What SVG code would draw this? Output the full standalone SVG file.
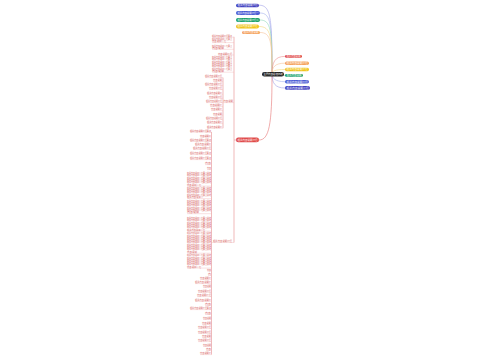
<svg xmlns="http://www.w3.org/2000/svg" width="500" height="360" viewBox="0 0 500 360">
<style>
.n text{font-family:"Noto Sans CJK SC","Liberation Sans",sans-serif;font-size:2.4px;fill:#fff}
.t{font-family:"Noto Sans CJK SC","Liberation Sans",sans-serif;font-size:2.1px;fill:#d65a5a}
.b{font-family:"Noto Sans CJK SC","Liberation Sans",sans-serif;font-size:1.8px;fill:#d65a5a}
.u{stroke:#f0b4b4;stroke-width:0.4;fill:none}
.c{fill:none;stroke-width:0.6}
.tr{stroke:#e99c9c;stroke-width:0.7;fill:none}
</style>
<rect width="500" height="360" fill="#fff"/>
<g id="connectors">
<path class="c" stroke="#9fa0e8" d="M272,74 C272,18 271,5.2 259,5.2"/>
<path class="c" stroke="#a4b0ee" d="M272,74 C272,24 271,13 260,13"/>
<path class="c" stroke="#8fd8b8" d="M272,74 C272,30 271,20 260,20"/>
<path class="c" stroke="#f3d77a" d="M272,74 C272,36 271,26.5 259,26.5"/>
<path class="c" stroke="#f6c39a" d="M272,74 C272,42 271,32.5 260,32.5"/>
<path class="c" stroke="#ec9090" d="M272,74 C272,62 275,56.4 285,56.4"/>
<path class="c" stroke="#f6c39a" d="M272,74 C272,67 275,63.2 285,63.2"/>
<path class="c" stroke="#f3d77a" d="M272,74 C272,71 275,69.5 285,69.5"/>
<path class="c" stroke="#8fd8b8" d="M272,74 C276,74 278,75.4 285,75.4"/>
<path class="c" stroke="#a4b0ee" d="M272,74 C272,78 275,81.7 285,81.7"/>
<path class="c" stroke="#9fa0e8" d="M272,74 C272,83 275,88 285,88"/>
<path class="c" stroke="#e57373" d="M272,76 C272,125 269,140 259,140"/>
<path class="tr" d="M234,36.8 V242.5 M234,140 H236"/>
<path class="tr" d="M223,77.6 V128.2"/>
<path class="tr" d="M211.5,132 V354.6"/>
</g>
<g id="center" class="n"><rect x="262" y="72" width="22" height="4.6" rx="2.3" fill="#222"/><text x="263.5" y="75.2" textLength="19" lengthAdjust="spacingAndGlyphs">主题内容总结归纳</text></g>
<g id="top1" class="n"><rect x="236" y="3.8" width="23" height="3.4" rx="1.7" fill="#3f3fbf"/><text x="237.5" y="6.3" textLength="20" lengthAdjust="spacingAndGlyphs">相关内容说明介绍</text></g>
<g id="top2" class="n"><rect x="236" y="11" width="24" height="4" rx="2" fill="#4a5cd4"/><text x="237.5" y="13.8" textLength="21" lengthAdjust="spacingAndGlyphs">相关内容说明介绍一</text></g>
<g id="top3" class="n"><rect x="236" y="18" width="24" height="4" rx="2" fill="#1aa06a"/><text x="237.5" y="20.8" textLength="21" lengthAdjust="spacingAndGlyphs">相关内容说明介绍二</text></g>
<g id="top4" class="n"><rect x="236" y="24.5" width="23" height="4" rx="2" fill="#f0c419"/><text x="237.5" y="27.3" textLength="20" lengthAdjust="spacingAndGlyphs">相关内容说明介绍</text></g>
<g id="top5" class="n"><rect x="242" y="31" width="18" height="3" rx="1.5" fill="#f5a25d"/><text x="243.5" y="33.3" textLength="15" lengthAdjust="spacingAndGlyphs">相关内容说明</text></g>
<g id="right1" class="n"><rect x="285" y="55" width="17" height="2.8" rx="1.4" fill="#e04848"/><text x="286.5" y="57.2" textLength="14" lengthAdjust="spacingAndGlyphs">相关内容说明</text></g>
<g id="right2" class="n"><rect x="285" y="61.5" width="24" height="3.5" rx="1.7" fill="#f5a25d"/><text x="286.5" y="64.1" textLength="21" lengthAdjust="spacingAndGlyphs">相关内容说明介绍</text></g>
<g id="right3" class="n"><rect x="285" y="67.8" width="24" height="3.5" rx="1.7" fill="#f0c419"/><text x="286.5" y="70.4" textLength="21" lengthAdjust="spacingAndGlyphs">相关内容说明介绍</text></g>
<g id="right4" class="n"><rect x="285" y="74" width="18" height="2.8" rx="1.4" fill="#1aa06a"/><text x="286.5" y="76.2" textLength="15" lengthAdjust="spacingAndGlyphs">相关内容说明</text></g>
<g id="right5" class="n"><rect x="285" y="80" width="24" height="3.5" rx="1.7" fill="#4a5cd4"/><text x="286.5" y="82.6" textLength="21" lengthAdjust="spacingAndGlyphs">相关内容说明介绍</text></g>
<g id="right6" class="n"><rect x="285" y="86" width="25" height="3.8" rx="1.9" fill="#3f3fbf"/><text x="286.5" y="88.8" textLength="22" lengthAdjust="spacingAndGlyphs">相关内容说明介绍</text></g>
<g id="left-main" class="n"><rect x="236" y="137.6" width="23" height="4.6" rx="2.3" fill="#e04848"/><text x="237.5" y="140.8" textLength="20" lengthAdjust="spacingAndGlyphs">相关内容说明介绍</text></g>
<g id="left-top-items">
<path class="u" d="M212,37.2H234 M212,42.6H234 M212,49.3H234 M218,55H234 M212,72.2H234"/>
<text class="t" x="212" y="36.8" textLength="20" lengthAdjust="spacingAndGlyphs">相关内容说明介绍要点</text>
<text class="b" x="212" y="39.8" textLength="20" lengthAdjust="spacingAndGlyphs">相关内容说明介绍要点</text>
<text class="b" x="212" y="42.2" textLength="14" lengthAdjust="spacingAndGlyphs">内容说明介绍</text>
<text class="b" x="212" y="46.6" textLength="20" lengthAdjust="spacingAndGlyphs">相关内容说明介绍要点</text>
<text class="b" x="212" y="48.9" textLength="12" lengthAdjust="spacingAndGlyphs">内容说明</text>
<text class="t" x="218" y="54.6" textLength="14" lengthAdjust="spacingAndGlyphs">内容说明介绍</text>
<text class="b" x="212" y="58" textLength="20" lengthAdjust="spacingAndGlyphs">相关内容说明介绍要点</text>
<text class="b" x="212" y="60.3" textLength="20" lengthAdjust="spacingAndGlyphs">相关内容说明介绍要点</text>
<text class="b" x="212" y="62.6" textLength="20" lengthAdjust="spacingAndGlyphs">相关内容说明介绍要点</text>
<text class="b" x="212" y="64.9" textLength="20" lengthAdjust="spacingAndGlyphs">相关内容说明介绍要点</text>
<text class="b" x="212" y="67.2" textLength="20" lengthAdjust="spacingAndGlyphs">相关内容说明介绍要点</text>
<text class="b" x="212" y="69.5" textLength="20" lengthAdjust="spacingAndGlyphs">相关内容说明介绍要点</text>
<text class="b" x="212" y="71.8" textLength="12" lengthAdjust="spacingAndGlyphs">内容说明</text>
</g>
<g id="sub-a">
<path class="u" d="M223,102.6H234"/>
<text class="t" x="223.5" y="102.2" textLength="9.5" lengthAdjust="spacingAndGlyphs">内容说明</text>
</g>
<g id="sub-a-items">
<path class="u" d="M205,77.6H223 M213,81.6H223 M205,85.6H223 M209,89.6H223 M207,94.2H223 M209,98.3H223 M206,102.6H223 M210,106.6H223 M211,110.6H223 M213,115.2H223 M206,119.3H223 M207,123.4H223 M207,128.2H223"/>
<text class="t" x="205" y="77.2" textLength="17" lengthAdjust="spacingAndGlyphs">相关内容说明介绍</text>
<text class="t" x="213" y="81.2" textLength="9" lengthAdjust="spacingAndGlyphs">内容说明</text>
<text class="t" x="205" y="85.2" textLength="17" lengthAdjust="spacingAndGlyphs">相关内容说明介绍</text>
<text class="t" x="209" y="89.2" textLength="13" lengthAdjust="spacingAndGlyphs">内容说明介绍</text>
<text class="t" x="207" y="93.8" textLength="15" lengthAdjust="spacingAndGlyphs">相关内容说明介</text>
<text class="t" x="209" y="97.9" textLength="13" lengthAdjust="spacingAndGlyphs">内容说明介绍</text>
<text class="t" x="206" y="102.2" textLength="16" lengthAdjust="spacingAndGlyphs">相关内容说明介绍</text>
<text class="t" x="210" y="106.2" textLength="12" lengthAdjust="spacingAndGlyphs">内容说明介</text>
<text class="t" x="211" y="110.2" textLength="11" lengthAdjust="spacingAndGlyphs">内容说明介</text>
<text class="t" x="213" y="114.8" textLength="9" lengthAdjust="spacingAndGlyphs">内容说明</text>
<text class="t" x="206" y="118.9" textLength="16" lengthAdjust="spacingAndGlyphs">相关内容说明介绍</text>
<text class="t" x="207" y="123" textLength="15" lengthAdjust="spacingAndGlyphs">相关内容说明介</text>
<text class="t" x="207" y="127.8" textLength="15" lengthAdjust="spacingAndGlyphs">相关内容说明介</text>
</g>
<g id="sub-b">
<path class="u" d="M211.5,242.5H234"/>
<text class="t" x="213" y="242" textLength="19" lengthAdjust="spacingAndGlyphs">相关内容说明介绍</text>
</g>
<g id="sub-b-items">
<path class="u" d="M190,132H211.5 M200,137H211.5 M190,141.4H211.5 M195,145.4H211.5 M193,149.4H211.5 M190,154.6H211.5 M190,159.6H211.5 M205,164.6H211.5 M207,169.6H211.5"/>
<text class="t" x="190" y="131.6" textLength="21" lengthAdjust="spacingAndGlyphs">相关内容说明介绍要点</text>
<text class="t" x="200" y="136.6" textLength="11" lengthAdjust="spacingAndGlyphs">内容说明介</text>
<text class="t" x="190" y="141" textLength="21" lengthAdjust="spacingAndGlyphs">相关内容说明介绍要点</text>
<text class="t" x="195" y="145" textLength="16" lengthAdjust="spacingAndGlyphs">相关内容说明介</text>
<text class="t" x="193" y="149" textLength="18" lengthAdjust="spacingAndGlyphs">相关内容说明介绍</text>
<text class="t" x="190" y="154.2" textLength="21" lengthAdjust="spacingAndGlyphs">相关内容说明介绍要点</text>
<text class="t" x="190" y="159.2" textLength="21" lengthAdjust="spacingAndGlyphs">相关内容说明介绍要点</text>
<text class="t" x="205" y="164.2" textLength="6" lengthAdjust="spacingAndGlyphs">内容</text>
<text class="t" x="207" y="169.2" textLength="4" lengthAdjust="spacingAndGlyphs">内容</text>
<g id="blocks">
<path class="u" d="M187,186.1H211.5 M187,198.6H211.5 M187,213.7H211.5 M187,231.1H211.5 M187,253.2H211.5 M187,268.1H211.5"/>
<text class="b" x="187" y="174" textLength="24" lengthAdjust="spacingAndGlyphs">相关内容说明介绍要点总结</text>
<text class="b" x="187" y="176.3" textLength="24" lengthAdjust="spacingAndGlyphs">相关内容说明介绍要点总结</text>
<text class="b" x="187" y="178.6" textLength="24" lengthAdjust="spacingAndGlyphs">相关内容说明介绍要点总结</text>
<text class="b" x="187" y="180.9" textLength="24" lengthAdjust="spacingAndGlyphs">相关内容说明介绍要点总结</text>
<text class="b" x="187" y="183.2" textLength="24" lengthAdjust="spacingAndGlyphs">相关内容说明介绍要点总结</text>
<text class="b" x="187" y="185.5" textLength="14" lengthAdjust="spacingAndGlyphs">内容说明介绍</text>
<text class="b" x="187" y="188.8" textLength="24" lengthAdjust="spacingAndGlyphs">相关内容说明介绍要点总结</text>
<text class="b" x="187" y="191.1" textLength="24" lengthAdjust="spacingAndGlyphs">相关内容说明介绍要点总结</text>
<text class="b" x="187" y="193.4" textLength="24" lengthAdjust="spacingAndGlyphs">相关内容说明介绍要点总结</text>
<text class="b" x="187" y="195.7" textLength="24" lengthAdjust="spacingAndGlyphs">相关内容说明介绍要点总结</text>
<text class="b" x="187" y="198" textLength="16" lengthAdjust="spacingAndGlyphs">相关内容说明介</text>
<text class="b" x="187" y="201.6" textLength="24" lengthAdjust="spacingAndGlyphs">相关内容说明介绍要点总结</text>
<text class="b" x="187" y="203.9" textLength="24" lengthAdjust="spacingAndGlyphs">相关内容说明介绍要点总结</text>
<text class="b" x="187" y="206.2" textLength="24" lengthAdjust="spacingAndGlyphs">相关内容说明介绍要点总结</text>
<text class="b" x="187" y="208.5" textLength="24" lengthAdjust="spacingAndGlyphs">相关内容说明介绍要点总结</text>
<text class="b" x="187" y="210.8" textLength="24" lengthAdjust="spacingAndGlyphs">相关内容说明介绍要点总结</text>
<text class="b" x="187" y="213.1" textLength="12" lengthAdjust="spacingAndGlyphs">内容说明</text>
<text class="b" x="187" y="219" textLength="24" lengthAdjust="spacingAndGlyphs">相关内容说明介绍要点总结</text>
<text class="b" x="187" y="221.3" textLength="24" lengthAdjust="spacingAndGlyphs">相关内容说明介绍要点总结</text>
<text class="b" x="187" y="223.6" textLength="24" lengthAdjust="spacingAndGlyphs">相关内容说明介绍要点总结</text>
<text class="b" x="187" y="225.9" textLength="24" lengthAdjust="spacingAndGlyphs">相关内容说明介绍要点总结</text>
<text class="b" x="187" y="228.2" textLength="24" lengthAdjust="spacingAndGlyphs">相关内容说明介绍要点总结</text>
<text class="b" x="187" y="230.5" textLength="18" lengthAdjust="spacingAndGlyphs">相关内容说明介绍</text>
<text class="b" x="187" y="234.2" textLength="24" lengthAdjust="spacingAndGlyphs">相关内容说明介绍要点总结</text>
<text class="b" x="187" y="236.5" textLength="24" lengthAdjust="spacingAndGlyphs">相关内容说明介绍要点总结</text>
<text class="b" x="187" y="238.8" textLength="24" lengthAdjust="spacingAndGlyphs">相关内容说明介绍要点总结</text>
<text class="b" x="187" y="241.1" textLength="24" lengthAdjust="spacingAndGlyphs">相关内容说明介绍要点总结</text>
<text class="b" x="187" y="243.4" textLength="24" lengthAdjust="spacingAndGlyphs">相关内容说明介绍要点总结</text>
<text class="b" x="187" y="245.7" textLength="24" lengthAdjust="spacingAndGlyphs">相关内容说明介绍要点总结</text>
<text class="b" x="187" y="248" textLength="24" lengthAdjust="spacingAndGlyphs">相关内容说明介绍要点总结</text>
<text class="b" x="187" y="250.3" textLength="24" lengthAdjust="spacingAndGlyphs">相关内容说明介绍要点总结</text>
<text class="b" x="187" y="252.6" textLength="10" lengthAdjust="spacingAndGlyphs">内容说明</text>
<text class="b" x="187" y="256.2" textLength="24" lengthAdjust="spacingAndGlyphs">相关内容说明介绍要点总结</text>
<text class="b" x="187" y="258.5" textLength="24" lengthAdjust="spacingAndGlyphs">相关内容说明介绍要点总结</text>
<text class="b" x="187" y="260.8" textLength="24" lengthAdjust="spacingAndGlyphs">相关内容说明介绍要点总结</text>
<text class="b" x="187" y="263.1" textLength="24" lengthAdjust="spacingAndGlyphs">相关内容说明介绍要点总结</text>
<text class="b" x="187" y="265.4" textLength="24" lengthAdjust="spacingAndGlyphs">相关内容说明介绍要点总结</text>
<text class="b" x="187" y="267.7" textLength="14" lengthAdjust="spacingAndGlyphs">内容说明介绍</text>
</g>
<path class="u" d="M207,270.9H211.5 M208,275.6H211.5 M200,279.6H211.5 M195,283.6H211.5 M203,287.6H211.5 M198,292.4H211.5 M197,296.6H211.5 M195,301.4H211.5 M205,305.6H211.5 M190,309.6H211.5 M205,314.4H211.5 M203,319.4H211.5 M202,324.4H211.5 M198,328.6H211.5 M198,333.4H211.5 M202,337.6H211.5 M198,341.6H211.5 M203,346.4H211.5 M206,350.6H211.5 M200,354.6H211.5"/>
<text class="t" x="207" y="270.5" textLength="4" lengthAdjust="spacingAndGlyphs">内容</text>
<text class="t" x="208" y="275.2" textLength="3" lengthAdjust="spacingAndGlyphs">内</text>
<text class="t" x="200" y="279.2" textLength="11" lengthAdjust="spacingAndGlyphs">内容说明介</text>
<text class="t" x="195" y="283.2" textLength="16" lengthAdjust="spacingAndGlyphs">相关内容说明介</text>
<text class="t" x="203" y="287.2" textLength="8" lengthAdjust="spacingAndGlyphs">内容说明</text>
<text class="t" x="198" y="292" textLength="13" lengthAdjust="spacingAndGlyphs">内容说明介绍</text>
<text class="t" x="197" y="296.2" textLength="14" lengthAdjust="spacingAndGlyphs">内容说明介绍</text>
<text class="t" x="195" y="301" textLength="16" lengthAdjust="spacingAndGlyphs">相关内容说明介</text>
<text class="t" x="205" y="305.2" textLength="6" lengthAdjust="spacingAndGlyphs">内容</text>
<text class="t" x="190" y="309.2" textLength="21" lengthAdjust="spacingAndGlyphs">相关内容说明介绍要点</text>
<text class="t" x="205" y="314" textLength="6" lengthAdjust="spacingAndGlyphs">内容</text>
<text class="t" x="203" y="319" textLength="8" lengthAdjust="spacingAndGlyphs">内容说明</text>
<text class="t" x="202" y="324" textLength="9" lengthAdjust="spacingAndGlyphs">内容说明</text>
<text class="t" x="198" y="328.2" textLength="13" lengthAdjust="spacingAndGlyphs">内容说明介绍</text>
<text class="t" x="198" y="333" textLength="13" lengthAdjust="spacingAndGlyphs">内容说明介绍</text>
<text class="t" x="202" y="337.2" textLength="9" lengthAdjust="spacingAndGlyphs">内容说明</text>
<text class="t" x="198" y="341.2" textLength="13" lengthAdjust="spacingAndGlyphs">内容说明介绍</text>
<text class="t" x="203" y="346" textLength="8" lengthAdjust="spacingAndGlyphs">内容说明</text>
<text class="t" x="206" y="350.2" textLength="5" lengthAdjust="spacingAndGlyphs">内容</text>
<text class="t" x="200" y="354.2" textLength="11" lengthAdjust="spacingAndGlyphs">内容说明介</text>
</g>
</svg>
